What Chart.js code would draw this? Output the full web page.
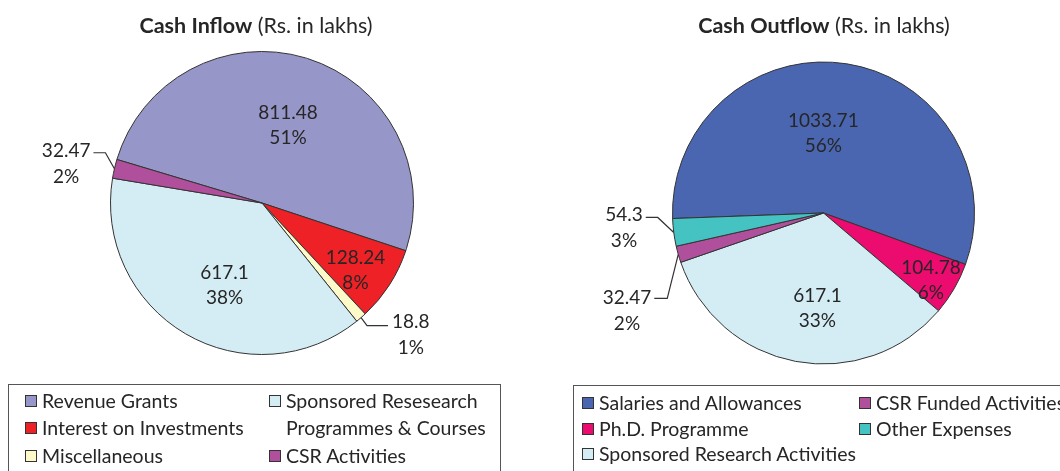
<!DOCTYPE html>
<html>
<head>
<meta charset="utf-8">
<script src="https://cdn.jsdelivr.net/npm/chart.js@4.4.0/dist/chart.umd.min.js"></script>
<style>
  html, body { margin: 0; padding: 0; background: #fff; }
  body { width: 1060px; height: 471px; overflow: hidden; position: relative;
         font-family: Lato, "Open Sans", sans-serif; color: #262626; }
  canvas { position: absolute; top: 0; }
  .title { position: absolute; top: 12px; font-size: 21.5px; white-space: nowrap;
           transform: translateX(-50%); line-height: 26px; }
  .title b { font-weight: 700; }
  .legend { position: absolute; border: 1.5px solid #555; height: 120px; box-sizing: border-box; }
  .item { position: absolute; font-size: 19.5px; line-height: 27px; white-space: nowrap; }
  .item i { position: absolute; left: 0; top: 8px; width: 12px; height: 12px;
            box-sizing: border-box; border: 1px solid #333; }
  .item span { display: block; padding-left: 17px; }
</style>
</head>
<body>
<canvas id="inflow" width="530" height="471" style="left:0"></canvas>
<canvas id="outflow" width="530" height="471" style="left:530px"></canvas>
<div class="title" style="left:256px"><b>Cash Inflow</b> (Rs. in lakhs)</div>
<div class="title" style="left:824px"><b>Cash Outflow</b> (Rs. in lakhs)</div>
<div class="legend" id="legIn" style="left:8px;top:384px;width:493px"></div>
<div class="legend" id="legOut" style="left:573px;top:385px;width:520px"></div>

<script>
// Cash inflow (Rs. in lakhs)
const inflowLabels = ['Revenue Grants', 'Interest on Investments', 'Miscellaneous',
                      'Sponsored Resesearch Programmes & Courses', 'CSR Activities'];
const inflowValues = [811.48, 128.24, 18.8, 617.1, 32.47];
const inflowPercents = ['51%', '8%', '1%', '38%', '2%'];
const inflowColors = ['#9696c8', '#ee2226', '#fdf9c8', '#d4edf4', '#b0509c'];

// Cash outflow (Rs. in lakhs)
const outflowLabels = ['Salaries and Allowances', 'Ph.D. Programme', 'Sponsored Research Activities',
                       'CSR Funded Activities', 'Other Expenses'];
const outflowValues = [1033.71, 104.78, 617.1, 32.47, 54.3];
const outflowPercents = ['56%', '6%', '33%', '2%', '3%'];
const outflowColors = ['#4a66b0', '#ec0b6e', '#d4edf4', '#b0509c', '#45c3c3'];

const FONT = '19px Lato, "Open Sans", sans-serif';
const TEXT = '#262626';
const LINE_GAP = 25;

// Label placement per slice: inside labels sit along the slice's mid angle
// (r = fraction of radius, da = angle nudge in degrees); outside labels get
// an elbow leader line starting from the rim.
const inflowPlacement = [
  { r: 0.54, da: 1 },
  { r: 0.76, da: 3 },
  { out: true, ex: 6, ey: 8, run: 21, side: 'right', lift: -4 },
  { r: 0.60, da: -6 },
  { out: true, ex: -9, ey: -16, run: -12, side: 'left', lift: -2 }
];
const outflowPlacement = [
  { r: 0.525, da: -9 },
  { r: 0.84, da: 2 },
  { r: 0.63, da: -7 },
  { out: true, ex: -11, ey: 44, run: -13, side: 'left', lift: 0 },
  { out: true, ex: -16, ey: -15, run: -12, side: 'left', lift: -3 }
];

const sliceLabels = {
  id: 'sliceLabels',
  afterDatasetsDraw(chart, args, opts) {
    const ctx = chart.ctx;
    const meta = chart.getDatasetMeta(0);
    const values = chart.data.datasets[0].data;
    ctx.save();
    ctx.font = FONT;
    ctx.fillStyle = TEXT;
    ctx.textBaseline = 'middle';
    meta.data.forEach((arc, i) => {
      const p = arc.getProps(['x', 'y', 'startAngle', 'endAngle', 'outerRadius']);
      const place = opts.placement[i];
      const mid = (p.startAngle + p.endAngle) / 2;
      const valTxt = String(values[i]);
      const pctTxt = opts.percents[i];
      if (!place.out) {
        const a = mid + place.da * Math.PI / 180;
        const cx = p.x + Math.cos(a) * p.outerRadius * place.r;
        const cy = p.y + Math.sin(a) * p.outerRadius * place.r;
        ctx.textAlign = 'center';
        ctx.fillText(valTxt, cx, cy - LINE_GAP / 2);
        ctx.fillText(pctTxt, cx, cy + LINE_GAP / 2);
      } else {
        const sx = p.x + Math.cos(mid) * p.outerRadius;
        const sy = p.y + Math.sin(mid) * p.outerRadius;
        const ex = sx + place.ex, ey = sy + place.ey;
        const tx = ex + place.run;
        ctx.strokeStyle = '#333';
        ctx.lineWidth = 1.2;
        ctx.beginPath();
        ctx.moveTo(sx, sy);
        ctx.lineTo(ex, ey);
        ctx.lineTo(tx, ey);
        ctx.stroke();
        const w = ctx.measureText(valTxt).width;
        const left = place.side === 'right' ? tx + 4 : tx - 3 - w;
        const ty = ey + place.lift;
        ctx.textAlign = 'left';
        ctx.fillText(valTxt, left, ty);
        ctx.textAlign = 'center';
        ctx.fillText(pctTxt, left + w / 2, ty + LINE_GAP + 1);
      }
    });
    ctx.restore();
  }
};

function makePie(id, labels, values, colors, percents, placement, rotation, padding) {
  return new Chart(document.getElementById(id), {
    type: 'pie',
    data: {
      labels: labels,
      datasets: [{
        data: values,
        backgroundColor: colors,
        borderColor: '#333',
        borderWidth: 1
      }]
    },
    options: {
      responsive: false,
      animation: false,
      rotation: rotation,
      layout: { padding: padding },
      plugins: {
        legend: { display: false },
        tooltip: { enabled: false },
        title: { display: false },
        sliceLabels: { placement: placement, percents: percents }
      }
    },
    plugins: [sliceLabels]
  });
}

makePie('inflow', inflowLabels, inflowValues, inflowColors, inflowPercents, inflowPlacement,
        286.7, { left: 110, top: 51, right: 116, bottom: 116 });
makePie('outflow', outflowLabels, outflowValues, outflowColors, outflowPercents, outflowPlacement,
        267.9, { left: 142, top: 61, right: 85, bottom: 106 });

// Legends: absolute item layout inside the framed boxes
function buildLegend(boxId, labels, colors, spots) {
  const box = document.getElementById(boxId);
  labels.forEach((lab, i) => {
    const s = spots[i];
    const div = document.createElement('div');
    div.className = 'item';
    div.style.left = s.x + 'px';
    div.style.top = s.y + 'px';
    if (s.w) { div.style.width = s.w + 'px'; div.style.whiteSpace = 'normal'; }
    const sw = document.createElement('i');
    sw.style.background = colors[i];
    const sp = document.createElement('span');
    sp.textContent = lab;
    div.appendChild(sw);
    div.appendChild(sp);
    box.appendChild(div);
  });
}
buildLegend('legIn', inflowLabels, inflowColors, [
  { x: 16, y: 2 }, { x: 16, y: 29 }, { x: 16, y: 57 },
  { x: 260, y: 2, w: 225 }, { x: 260, y: 57 }
]);
buildLegend('legOut', outflowLabels, outflowColors, [
  { x: 8, y: 3 }, { x: 8, y: 29 }, { x: 8, y: 54 },
  { x: 285, y: 3 }, { x: 285, y: 29 }
]);
</script>
</body>
</html>
